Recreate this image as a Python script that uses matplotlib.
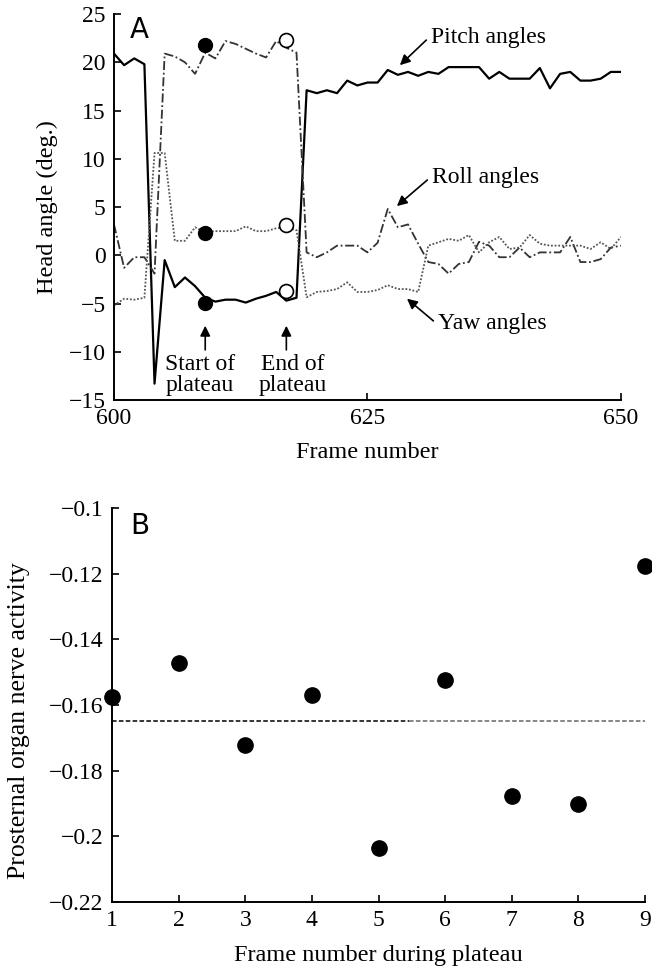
import numpy as np
import matplotlib
matplotlib.use("Agg")
import matplotlib.pyplot as plt

plt.rcParams['font.family'] = ['Liberation Serif', 'DejaVu Serif']
plt.rcParams['axes.unicode_minus'] = True

# ---- Panel A data: head angles per video frame ----
frames = list(range(600, 651))
pitch = [20.9, 19.7, 20.4, 19.8, -13.3, -0.5, -3.3, -2.3, -3.2, -4.4,
         -4.8, -4.6, -4.6, -4.9, -4.5, -4.2, -3.8, -4.7, -4.4, 17.1,
         16.8, 17.1, 16.8, 18.1, 17.6, 17.9, 17.9, 19.2, 18.7, 19.0,
         18.6, 19.0, 18.8, 19.5, 19.5, 19.5, 19.5, 18.3, 19.0, 18.3,
         18.3, 18.3, 19.4, 17.3, 18.8, 19.0, 18.1, 18.1, 18.3, 19.0, 19.0]
roll = [3.2, -1.3, -0.2, -0.2, -1.9, 20.9, 20.6, 20.0, 18.8, 21.0,
        20.4, 22.2, 21.9, 21.4, 20.9, 20.5, 22.2, 21.5, 21.0, 0.3,
        -0.2, 0.3, 1.0, 1.0, 1.0, 0.3, 1.3, 4.8, 2.9, 3.2,
        1.2, -0.7, -0.9, -1.9, -0.9, -0.7, 1.4, 1.0, -0.2, -0.2,
        0.8, -0.2, 0.3, 0.3, 0.3, 1.9, -0.7, -0.7, -0.4, 0.8, 1.0]
yaw = [-5.2, -4.5, -4.6, -4.4, 10.6, 10.6, 1.5, 1.5, 2.9, 2.4,
       2.5, 2.5, 2.5, 3.0, 2.5, 2.5, 2.8, 2.9, 2.6, -4.35,
       -3.8, -3.7, -3.5, -2.8, -3.8, -3.8, -3.6, -3.1, -3.5, -3.5,
       -3.8, 1.0, 1.35, 1.7, 1.5, 2.1, 0.3, 1.35, 1.9, 0.65,
       0.8, 2.1, 1.2, 1.0, 1.0, 1.0, 1.0, 0.65, 1.35, 0.65, 1.9]

# plateau start / end markers (roll, yaw, pitch)
start_frame = 609
start_vals = [21.8, 2.3, -4.9]
end_frame = 617
end_vals = [22.3, 3.1, -3.7]

# ---- Panel B data: nerve activity during plateau ----
plateau_frames = [1, 2, 3, 4, 5, 6, 7, 8, 9]
activity = [-0.1574, -0.1473, -0.1721, -0.1569, -0.2036, -0.1524,
            -0.1877, -0.1901, -0.1177]
mean_level = -0.165
mean_split = 5.45
b_yticks = [-0.22, -0.2, -0.18, -0.16, -0.14, -0.12, -0.1]
b_yticklabels = ['\u22120.22', '\u22120.2', '\u22120.18', '\u22120.16',
                 '\u22120.14', '\u22120.12', '\u22120.1']

fig = plt.figure(figsize=(6.52, 9.67), dpi=100)
axA = fig.add_axes([0.1748, 0.5863, 0.7776, 0.3992])
axB = fig.add_axes([0.1718, 0.0672, 0.8175, 0.4074])

tick_fs = 17
label_fs = 17.5
note_fs = 17

for ax in (axA, axB):
    ax.spines['top'].set_visible(False)
    ax.spines['right'].set_visible(False)
    ax.spines['left'].set_linewidth(1.4)
    ax.spines['bottom'].set_linewidth(1.4)
    ax.tick_params(direction='in', length=5, width=1.2, labelsize=tick_fs, pad=6)

# --- Panel A ---
axA.plot(frames, pitch, color='black', lw=1.6, ls='-')
axA.plot(frames, roll, color='#333333', lw=1.3, ls=(0, (5, 1.5, 1, 1.5)))
axA.plot(frames, yaw, color='#555555', lw=1.3, ls=(0, (1, 1)))
axA.plot([start_frame] * 3, start_vals, 'o', ms=10, color='black', clip_on=False)
axA.plot([end_frame] * 3, end_vals, 'o', ms=10, mfc='white', mec='black',
         mew=1.2, clip_on=False)

axA.set_xlim(600, 650)
axA.set_ylim(-15, 25)
axA.set_xticks([600, 625, 650])
axA.set_yticks([-15, -10, -5, 0, 5, 10, 15, 20, 25])
axA.set_xlabel('Frame number', fontsize=label_fs, labelpad=9)
axA.set_ylabel('Head angle (deg.)', fontsize=label_fs, labelpad=8)
axA.text(601.6, 23.3, 'A', family='DejaVu Sans', fontsize=20, va='center', ha='left')

arrow = dict(arrowstyle='-|>', color='black', lw=1.2, mutation_scale=15,
             shrinkA=0, shrinkB=0)
axA.annotate('', xy=(628.2, 19.7), xytext=(630.8, 22.3), arrowprops=arrow)
axA.text(631.3, 22.6, 'Pitch angles', fontsize=note_fs, va='center', ha='left')
axA.annotate('', xy=(627.9, 5.1), xytext=(630.9, 7.8), arrowprops=arrow)
axA.text(631.4, 8.1, 'Roll angles', fontsize=note_fs, va='center', ha='left')
axA.annotate('', xy=(628.9, -4.5), xytext=(631.5, -6.8), arrowprops=arrow)
axA.text(632.0, -7.1, 'Yaw angles', fontsize=note_fs, va='center', ha='left')
axA.annotate('', xy=(609, -7.3), xytext=(609, -9.8), arrowprops=arrow)
axA.text(608.5, -12.4, 'Start of\nplateau', fontsize=note_fs, va='center',
         ha='center', linespacing=1.0)
axA.annotate('', xy=(617, -7.3), xytext=(617, -9.8), arrowprops=arrow)
axA.text(617.6, -12.4, 'End of\nplateau', fontsize=note_fs, va='center',
         ha='center', linespacing=1.0)

# --- Panel B ---
axB.plot([plateau_frames[0], mean_split], [mean_level, mean_level],
         color='black', lw=1.1, ls=(0, (3, 1.5)))
axB.plot([mean_split, plateau_frames[-1]], [mean_level, mean_level],
         color='#666666', lw=1.1, ls=(0, (3, 1.5)))
axB.plot(plateau_frames, activity, 'o', ms=11, color='black', clip_on=False,
         zorder=5)
axB.set_xlim(1, 9)
axB.set_ylim(-0.22, -0.1)
axB.set_xticks(plateau_frames)
axB.set_yticks(b_yticks)
axB.set_yticklabels(b_yticklabels)
axB.set_xlabel('Frame number during plateau', fontsize=label_fs, labelpad=10)
axB.set_ylabel('Prosternal organ nerve activity', fontsize=18.5)
axB.yaxis.set_label_coords(-0.153, 0.46)
axB.text(1.28, -0.1055, 'B', family='DejaVu Sans', fontsize=20, va='center', ha='left')

fig.savefig('out.png', dpi=100)
